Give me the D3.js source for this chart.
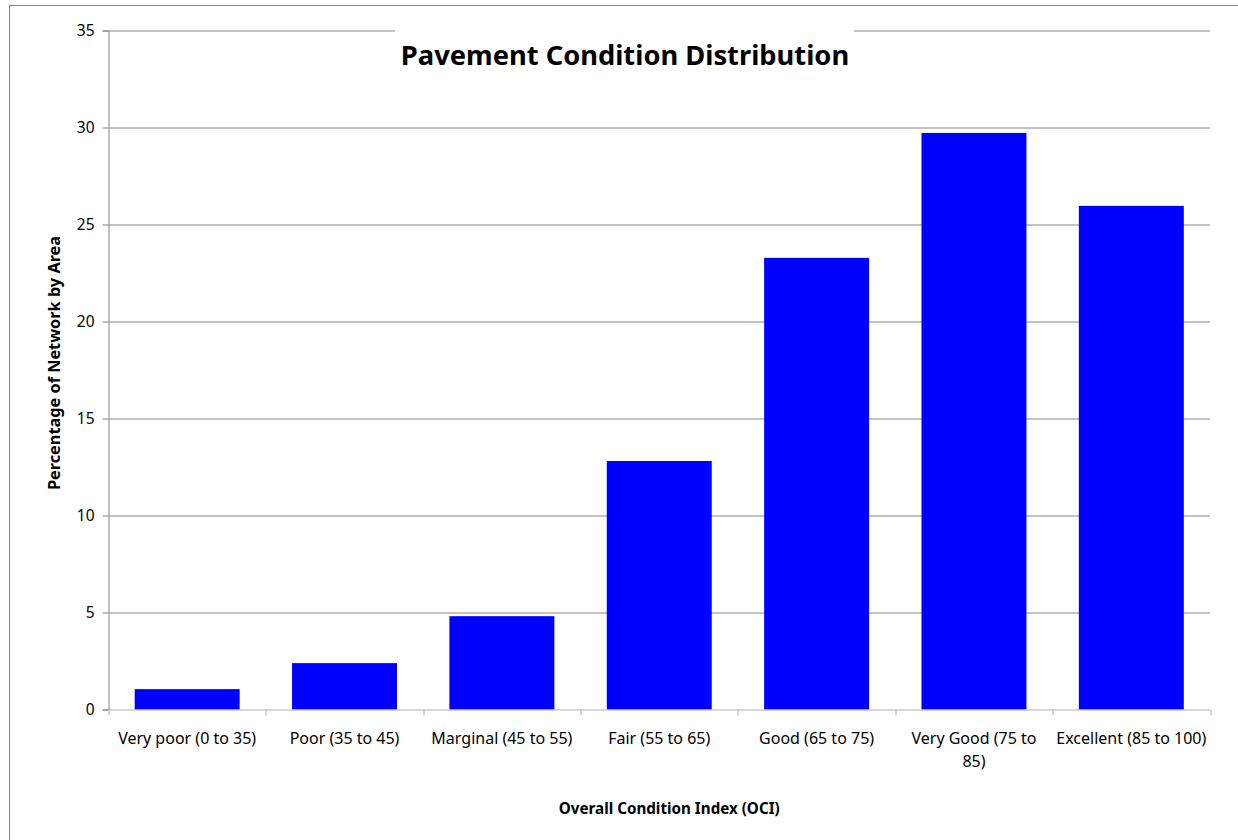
<!DOCTYPE html>
<html>
<head>
<meta charset="utf-8">
<script src="https://cdn.jsdelivr.net/npm/d3@7"></script>
<style>
  body { margin: 0; background: #fff; }
  text { font-family: "Noto Sans", "Open Sans", sans-serif; fill: #000; }
</style>
</head>
<body>
<div id="chart"></div>
<script>
// chart values
const categories = ["Very poor (0 to 35)", "Poor (35 to 45)", "Marginal (45 to 55)",
    "Fair (55 to 65)", "Good (65 to 75)", "Very Good (75 to 85)", "Excellent (85 to 100)"];
// tick labels as they are broken into lines under the axis
const tickLabelLines = [["Very poor (0 to 35)"], ["Poor (35 to 45)"], ["Marginal (45 to 55)"],
    ["Fair (55 to 65)"], ["Good (65 to 75)"], ["Very Good (75 to", "85)"], ["Excellent (85 to 100)"]];
const percents = [1.05, 2.39, 4.81, 12.81, 23.28, 29.72, 25.96];
const yTicks = [0, 5, 10, 15, 20, 25, 30, 35];

const W = 1238, H = 840;
const margin = {top: 30.5, right: 28, bottom: 130.5, left: 108.5},
    width = W - margin.left - margin.right,
    height = H - margin.top - margin.bottom;

const root = d3.select("#chart")
    .append("svg")
    .attr("width", W)
    .attr("height", H);

// outer chart frame
root.append("rect")
    .attr("x", 9.5).attr("y", 5.5)
    .attr("width", W + 20).attr("height", H + 20)
    .attr("fill", "none")
    .attr("stroke", "#868686")
    .attr("stroke-width", 1);

const svg = root.append("g")
    .attr("transform", `translate(${margin.left},${margin.top})`);

const x = d3.scaleBand()
    .domain(categories)
    .range([0, width])
    .padding(0);

const y = d3.scaleLinear()
    .domain([0, 35])
    .range([height, 0]);

// gridlines
svg.append("g")
    .selectAll("line")
    .data(yTicks.filter(d => d > 0))
    .enter()
    .append("line")
    .attr("x1", 0).attr("x2", width)
    .attr("y1", d => Math.round(y(d)) + 0.5)
    .attr("y2", d => Math.round(y(d)) + 0.5)
    .attr("stroke", "#868686");

// y axis
const yAxis = svg.append("g")
    .call(d3.axisLeft(y).tickValues(yTicks).tickSize(6).tickPadding(8));
yAxis.select(".domain").attr("stroke", "#868686");
yAxis.selectAll(".tick line").attr("stroke", "#868686");
yAxis.selectAll("text")
    .style("font-size", "15.5px")
    .style("font-family", "Noto Sans, sans-serif")
    .attr("fill", "#000");

// bars
const barFrac = 0.667;
svg.selectAll("rect.bar")
    .data(percents)
    .enter()
    .append("rect")
    .attr("class", "bar")
    .attr("x", (d, i) => x(categories[i]) + x.bandwidth() * (1 - barFrac) / 2)
    .attr("width", x.bandwidth() * barFrac)
    .attr("y", d => y(d))
    .attr("height", d => height - y(d))
    .attr("fill", "#0000FF");

// x axis with ticks at category boundaries
const xg = svg.append("g").attr("transform", `translate(0,${height})`);
xg.append("line")
    .attr("x1", 0).attr("x2", width)
    .attr("y1", 0.5).attr("y2", 0.5)
    .attr("stroke", "#b0b0b0");
xg.selectAll("line.tk")
    .data(categories.concat(["end"]))
    .enter()
    .append("line")
    .attr("class", "tk")
    .attr("x1", (d, i) => Math.round(i * x.step()) + 0.5)
    .attr("x2", (d, i) => Math.round(i * x.step()) + 0.5)
    .attr("y1", 0).attr("y2", 6)
    .attr("stroke", "#b0b0b0");

xg.selectAll("text.cat")
    .data(categories)
    .enter()
    .append("text")
    .attr("class", "cat")
    .attr("y", 34)
    .attr("text-anchor", "middle")
    .style("font-size", "16px")
    .each(function(d, i) {
        const cx = x(d) + x.bandwidth() / 2;
        d3.select(this).selectAll("tspan")
            .data(tickLabelLines[i])
            .enter()
            .append("tspan")
            .attr("x", cx)
            .attr("dy", (s, j) => j === 0 ? 0 : "1.45em")
            .text(s => s);
    });

// axis titles
svg.append("text")
    .attr("x", width / 2 + 10)
    .attr("y", height + 104)
    .attr("text-anchor", "middle")
    .style("font-size", "15.2px")
    .style("font-weight", "bold")
    .text("Overall Condition Index (OCI)");

svg.append("text")
    .attr("transform", `translate(${-49},${height / 2 - 7}) rotate(-90)`)
    .attr("text-anchor", "middle")
    .style("font-size", "16.3px")
    .style("font-weight", "bold")
    .text("Percentage of Network by Area");

// chart title on a white box over the top gridline
root.append("rect")
    .attr("x", 395).attr("y", 18)
    .attr("width", 459).attr("height", 70)
    .attr("fill", "#fff");
root.append("text")
    .attr("x", 625)
    .attr("y", 65)
    .attr("text-anchor", "middle")
    .style("font-size", "27.3px")
    .style("font-weight", "bold")
    .text("Pavement Condition Distribution");
</script>
</body>
</html>
